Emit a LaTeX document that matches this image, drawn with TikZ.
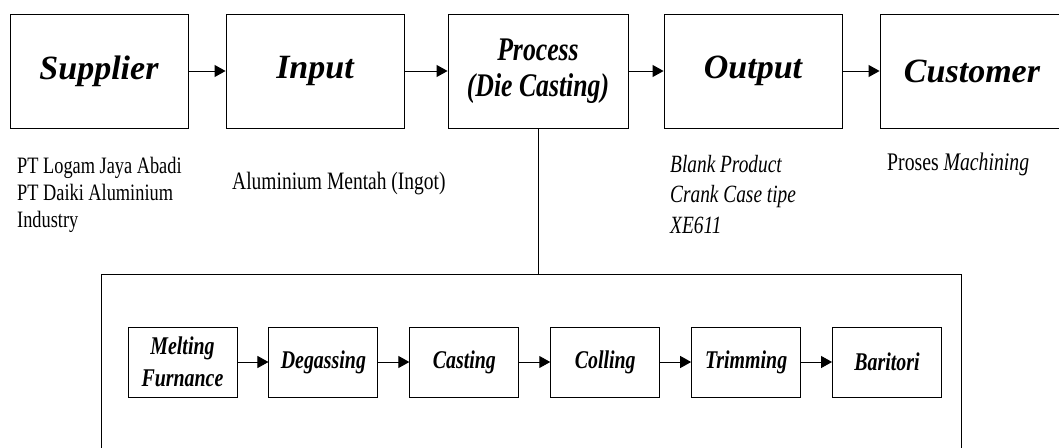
\documentclass[tikz,border=0pt]{standalone}
\usepackage{fontspec}
\setmainfont{Liberation Serif}
\newfontfamily\narrowfont{Liberation Serif}[FakeStretch=0.78]
\usetikzlibrary{positioning,arrows.meta}

\begin{document}
\begin{tikzpicture}[x=1pt,y=-1pt,
    bigbox/.style={draw,line width=0.9pt,minimum width=178pt,minimum height=114pt,inner sep=0pt,
        font=\fontsize{34}{40}\selectfont\bfseries\itshape},
    subbox/.style={draw,line width=0.9pt,minimum width=109pt,minimum height=70pt,inner sep=0pt,align=center,
        font=\narrowfont\fontsize{25.5}{32}\selectfont\bfseries\itshape},
    flow/.style={line width=1pt,-{Triangle[length=11pt,width=12pt]}},
    note/.style={anchor=base west,align=left,inner sep=0pt,font=\narrowfont\fontsize{25}{30}\selectfont}]
    \useasboundingbox (0,0) rectangle (1059,447);
    % top row
    \node[bigbox] (supplier) at (99,71) {Supplier};
    \node[bigbox] (input) at (315,71) {Input};
    \node[bigbox,minimum width=180pt,align=center,
        font=\narrowfont\fontsize{33}{36}\selectfont\bfseries\itshape] (process) at (538,71) {Process\\(Die Casting)};
    \node[bigbox] (output) at (753,71) {Output};
    \node[bigbox,minimum width=184pt] (customer) at (972,71) {Customer};
    \foreach \a/\b in {supplier/input,input/process,process/output,output/customer}
        \draw[flow] (\a) -- (\b);
    % notes under the boxes (base = last line)
    \node[note,font=\narrowfont\fontsize{23.5}{27}\selectfont] (suppliernote) at (17,227) {PT Logam Jaya Abadi\\PT Daiki Aluminium\\Industry};
    \node[note] (inputnote) at (232,189) {Aluminium Mentah (Ingot)};
    \node[note,font=\narrowfont\fontsize{24.8}{30.5}\selectfont\itshape] (outputnote) at (670,233) {Blank Product\\Crank Case tipe\\XE611};
    \node[note,font=\narrowfont\fontsize{25.3}{30}\selectfont] (customernote) at (887,170) {Proses \textit{Machining}};
    % die casting detail
    \coordinate (split) at (538,274);
    \draw[line width=0.9pt] (process.south) -- (split);
    \draw[line width=0.9pt] (101,452) -- (101,274) -- (961,274) -- (961,452);
    \foreach \name/\txt [count=\i from 0] in {melt/{Melting\\Furnance},degas/Degassing,cast/Casting,cool/Colling,trim/Trimming,bari/Baritori}
        \node[subbox] (\name) at (182.5+140.9*\i,362) {\txt};
    \foreach \a/\b in {melt/degas,degas/cast,cast/cool,cool/trim,trim/bari}
        \draw[flow] (\a) -- (\b);
\end{tikzpicture}
\end{document}
